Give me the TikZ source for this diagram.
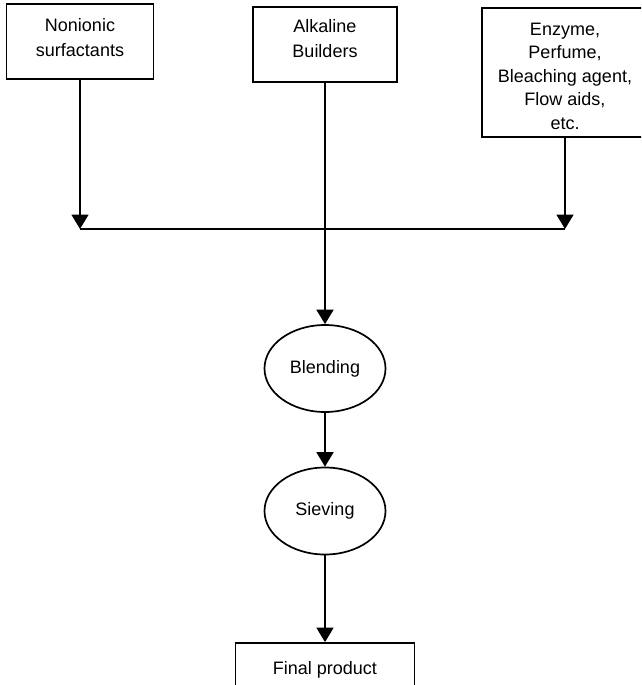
\documentclass[tikz,border=0pt]{standalone}
\usepackage{fontspec}
\setmainfont{Liberation Sans}
\usetikzlibrary{arrows.meta,shapes.geometric}
\tikzset{
  boxnode/.style={draw, line width=1.8pt, rectangle, inner sep=0pt},
  ovalnode/.style={draw, line width=1.7pt, ellipse, inner sep=0pt, minimum width=121pt, minimum height=87pt, font=\fontsize{18}{22}\selectfont},
  txt/.style={inner sep=0pt, align=center, font=\fontsize{18}{25}\selectfont},
  flow/.style={line width=1.8pt, -{Triangle[width=17pt,length=14.5pt]}},
  plain/.style={line width=1.8pt}
}
\begin{document}
\begin{tikzpicture}[x=1pt,y=-1pt]
\useasboundingbox (0,0) rectangle (641,685);
\clip (0,0) rectangle (641,685);
\fill[white] (0,0) rectangle (641,685);
% input boxes
\node[boxnode, minimum width=147pt, minimum height=75pt] (b1) at (80,41.5) {};
\node[txt, anchor=north] (t1) at (80,18.3) {Nonionic\\surfactants};
\node[boxnode, minimum width=144pt, minimum height=75pt] (b2) at (325,44.5) {};
\node[txt, anchor=north] (t2) at (325,19) {Alkaline\\Builders};
\node[boxnode, minimum width=166pt, minimum height=129pt] (b3) at (565,72.5) {};
\node[txt, anchor=north, font=\fontsize{18}{23.5}\selectfont] (t3) at (565,22.5) {Enzyme,\\Perfume,\\Bleaching agent,\\Flow aids,\\etc.};
% process steps
\node[ovalnode] (blend) at (325,368.5) {Blending};
\node[ovalnode] (sieve) at (325,511) {Sieving};
\node[boxnode, minimum width=179pt, minimum height=53pt, font=\fontsize{18}{22}\selectfont] (final) at (325,669.5) {Final product};
% junction line
\coordinate (jL) at (b1.south |- 0,229);
\coordinate (jR) at (b3.south |- 0,229);
\draw[plain] (jL) -- (jR);
\draw[flow] (b1.south) -- (jL);
\draw[flow] (b3.south) -- (jR);
\draw[flow] (b2.south) -- (blend.north);
\draw[flow] (blend.south) -- (sieve.north);
\draw[flow] (sieve.south) -- (final.north);
\end{tikzpicture}
\end{document}
